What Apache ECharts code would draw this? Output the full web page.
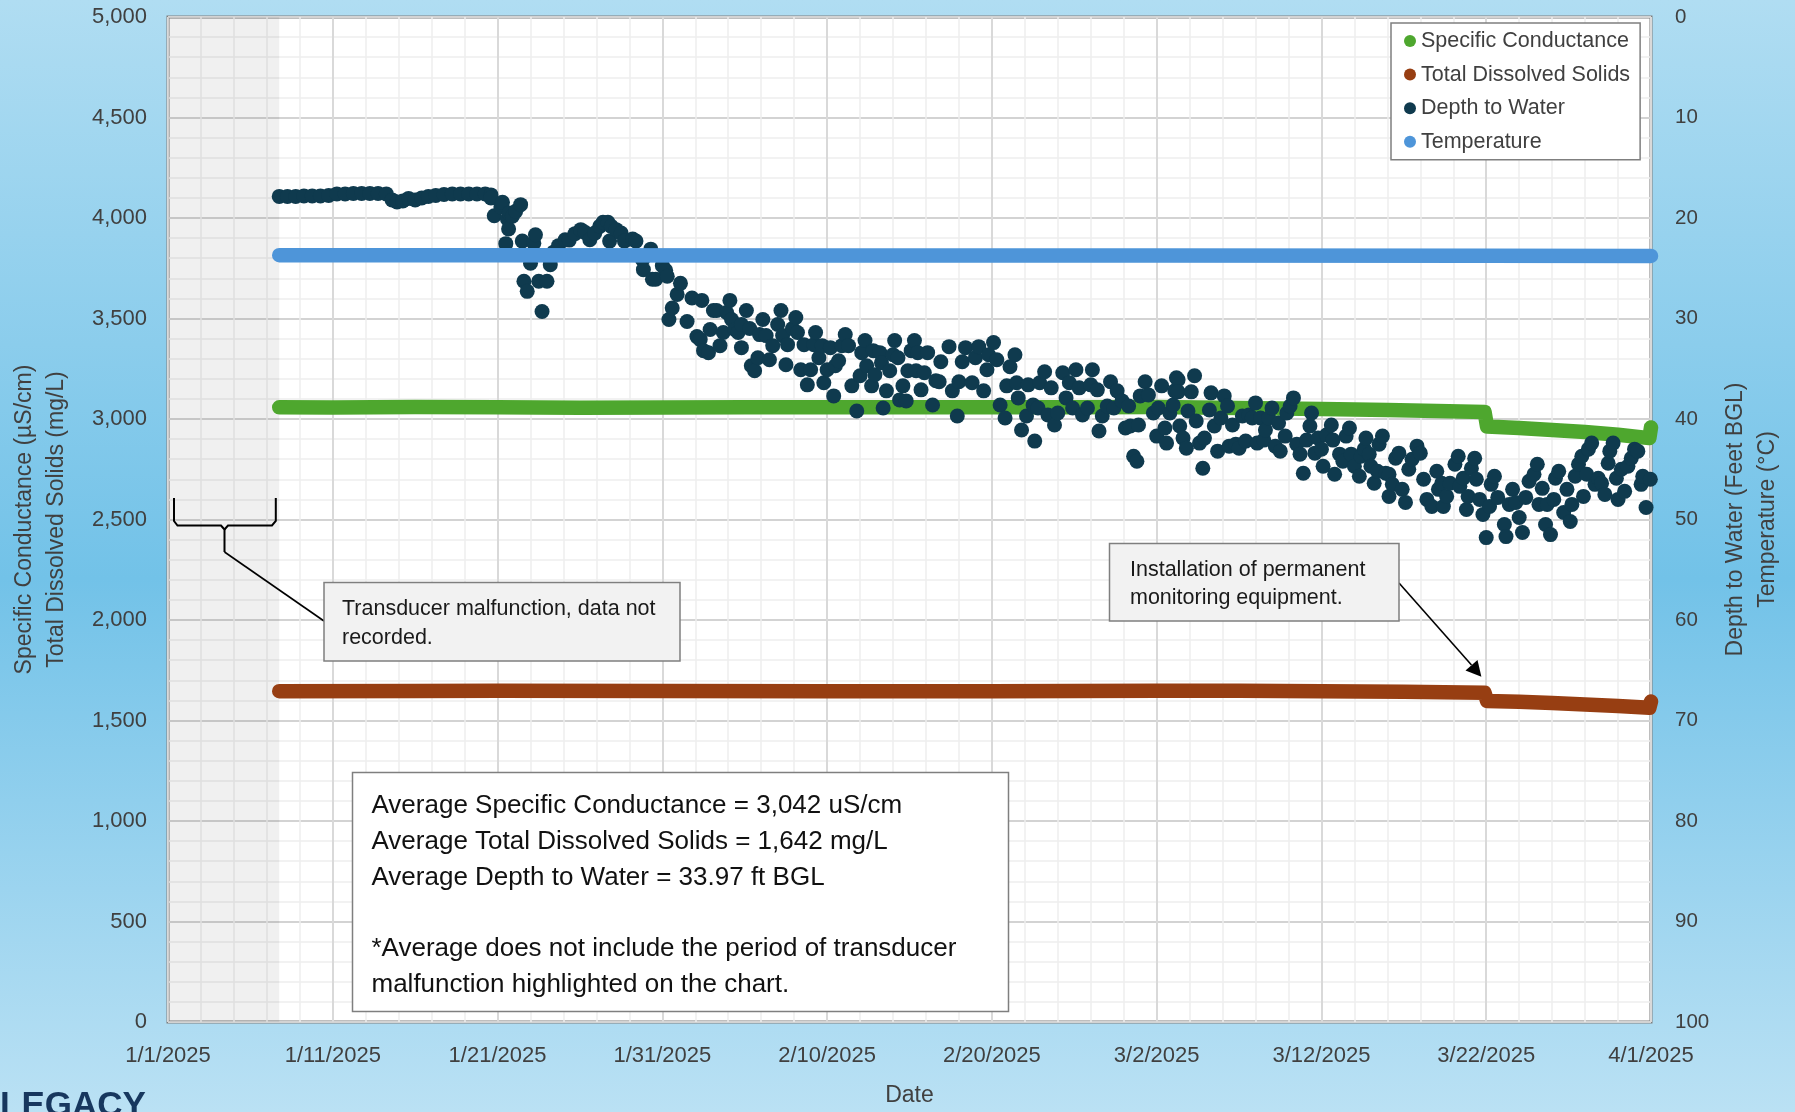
<!DOCTYPE html>
<html>
<head>
<meta charset="utf-8">
<title>Specific Conductance, TDS, Depth to Water and Temperature</title>
<script src="https://cdn.jsdelivr.net/npm/echarts/dist/echarts.min.js"></script>
<style>
    html, body { margin: 0; padding: 0; }
    #chart {
        width: 1795px;
        height: 1112px;
        background: linear-gradient(to bottom, #B0DDF2 0%, #72C2E8 52%, #BAE1F4 100%);
    }
</style>
</head>
<body>
<div id="chart"></div>
<script>
// x values are days after 1/1/2025
var scData = [[6.75,3058],[10,3057],[15,3060],[20,3058],[25,3056],[30,3057],[35,3058],[40,3058],[45,3059],
    [50,3058],[55,3058],[60,3060],[65,3055],[70,3050],[74,3045],[77,3040],[79.9,3035],
    [80.05,2963],[82,2955],[84,2945],[86,2935],[88,2922],[89.9,2905],[90,2958]];

var tdsData = [[6.75,1646],[15,1647],[20,1648],[30,1647],[40,1646],[50,1646],[60,1648],[65,1648],
    [70,1646],[75,1643],[79.9,1638],[80.05,1597],[82,1593],[84,1587],[86,1580],[88,1572],[89.9,1563],[90,1595]];

var tempData = [[6.75,23.7],[20,23.7],[40,23.72],[60,23.72],[80,23.75],[90,23.78]];

var depthData = [
    [6.75,17.85],[7.25,17.85],[7.75,17.85],[8.25,17.8],[8.75,17.8],[9.25,17.8],[9.75,17.75],[10.25,17.6],
    [10.75,17.6],[11.25,17.55],[11.75,17.55],[12.25,17.55],[12.75,17.55],[13.25,17.6],[13.6,18.2],[13.9,18.4],
    [14.25,18.3],[14.6,18.05],[15,18.2],[15.4,18.0],[15.8,17.85],[16.25,17.75],[16.75,17.65],[17.25,17.6],
    [17.75,17.6],[18.25,17.6],[18.75,17.6],[19.25,17.6],[19.6,17.7],
    [19.6,18.0],[19.8,19.77],[20.2,18.9],[20.3,18.44],[20.5,22.55],[20.6,20.1],[20.67,21.1],[20.7,19.5],
    [20.9,19.83],[21.1,19.34],[21.4,18.67],[21.5,22.3],[21.6,26.3],[21.8,27.3],[22.0,24.5],[22.2,22.5],
    [22.3,21.66],[22.5,26.3],[22.7,29.3],[23.0,26.3],[23.2,24.64],[23.4,23.4],[23.7,22.75],[24.1,22.16],
    [24.35,22.2],[24.7,21.56],[25.05,21.16],[25.3,21.43],[25.6,22.16],[25.9,21.5],[26.2,20.83],[26.4,20.43],
    [26.7,20.43],[26.8,22.3],[26.9,20.83],[27.2,21.16],[27.5,21.5],[27.7,22.3],[28.2,22.1],[28.4,22.3],
    [28.8,24.15],[28.85,25.14],[29.3,23.1],[29.4,26.1],[29.6,26.1],[30.0,24.74],[30.2,25.2],[30.3,25.8],
    [30.4,30.1],[30.6,28.96],[30.9,27.6],[31.1,26.5],[31.5,30.3],[31.8,27.96],[32.1,31.8],
    [32.4,28.2],[32.3,32.1],[32.5,33.2],[32.8,33.4],[32.9,31.1],[33.1,29.2],[33.3,29.2],[33.5,32.7],
    [33.7,31.4],[33.9,29.4],[34.1,28.2],[34.2,30.1],[34.4,31.1],[34.6,31.4],[34.8,32.9],[34.8,30.6],
    [35.1,29.2],[35.3,31.0],[35.4,34.7],[35.6,35.2],[35.8,33.9],[35.9,31.6],[36.1,30.1],[36.3,31.7],
    [36.5,34.1],[36.7,32.7],[37.0,30.6],[37.2,29.2],[37.3,31.7],[37.5,34.6],[37.6,32.6],[37.9,31.0],
    [38.1,29.9],[38.2,31.4],[38.4,35.1],[38.6,32.6],[38.8,36.6],[39.0,35.1],[39.2,32.6],[39.3,31.4],
    [39.5,33.9],[39.7,32.7],[39.8,36.4],[40.0,35.1],[40.2,32.9],[40.4,37.7],[40.5,34.7],[40.7,34.2],
    [40.9,32.7],[41.1,31.6],[41.3,32.7],[41.5,36.7],[41.8,39.2],[42.0,35.7],[42.1,33.4],[42.3,32.2],
    [42.4,34.7],[42.7,36.7],[42.8,33.2],[42.9,35.6],[43.2,33.4],[43.3,34.4],[43.4,38.9],[43.6,37.2],
    [43.8,35.2],[44.0,33.6],[44.1,32.2],[44.3,33.9],[44.4,38.1],[44.6,36.7],[44.8,38.2],[44.9,35.2],
    [45.1,33.2],[45.3,32.2],[45.4,35.2],[45.5,33.4],[45.7,37.1],[45.9,35.4],[46.1,33.4],[46.4,38.6],[46.6,36.2],
    [46.8,36.3],[46.9,34.3],[47.4,32.8],[47.6,37.2],[47.9,39.7],[48.0,36.3],[48.2,34.3],[48.4,32.9],
    [48.8,36.4],[49.0,33.9],[49.2,32.8],[49.5,37.2],[49.7,35.1],[49.8,33.6],[50.1,32.4],[50.3,34.1],
    [50.5,38.6],[50.8,39.9],[50.9,36.7],[51.1,34.8],[51.4,33.6],[51.5,36.4],[51.6,37.9],[51.8,41.1],
    [52.1,39.7],[52.2,36.6],[52.5,38.6],[52.6,42.2],[52.8,38.9],[52.9,36.4],[53.2,35.3],[53.4,39.6],
    [53.6,36.9],[53.8,40.6],[54.0,39.4],[54.3,35.4],[54.5,37.9],[54.7,36.4],[54.9,38.9],[55.1,35.1],
    [55.3,36.9],[55.5,39.6],[55.8,38.9],[56.0,36.6],[56.1,35.1],[56.4,37.1],[56.5,41.2],[56.7,39.7],
    [57.0,38.7],[57.2,36.3],[57.4,38.9],[57.6,37.2],[57.9,38.2],[58.1,40.9],[58.3,38.7],[58.4,40.7],
    [58.6,43.7],[58.8,44.2],[58.9,40.6],[59.0,37.7],[59.3,36.3],[59.5,37.6],[59.8,39.4],[60.0,41.7],
    [60.1,38.9],[60.3,36.7],[60.5,40.9],[60.6,42.4],[60.8,39.4],[61.0,38.6],[61.1,37.2],[61.2,35.9],
    [61.3,36.1],[61.3,37.3],[61.4,40.7],[61.6,41.9],[61.8,42.9],[61.9,39.2],[62.1,37.3],[62.3,35.7],
    [62.4,40.2],[62.6,42.4],[62.8,44.9],[62.9,41.9],[63.2,39.1],[63.3,37.4],[63.5,40.7],[63.7,43.2],
    [63.9,39.9],[64.1,37.7],[64.3,38.7],[64.4,42.7],[64.6,40.6],[64.8,42.5],[65.0,42.9],[65.2,39.7],
    [65.4,42.2],[65.6,39.6],[65.8,39.9],[66.0,38.4],[66.1,42.4],[66.3,39.9],[66.5,42.1],[66.6,41.1],
    [66.8,39.9],[67.0,38.9],[67.2,42.7],[67.4,40.4],[67.5,43.2],[67.8,41.7],[67.9,39.4],[68.1,38.7],
    [68.3,37.9],[68.5,42.5],[68.7,43.5],[68.9,45.4],[69.1,42.1],[69.3,40.7],[69.4,39.4],[69.6,43.4],
    [69.8,41.9],[70.0,43.0],[70.1,44.7],[70.3,41.6],[70.6,40.6],[70.7,42.1],[70.8,45.5],[71.1,43.5],
    [71.3,44.2],[71.5,41.7],[71.7,40.9],[71.8,43.5],[72.0,44.7],[72.3,45.7],[72.4,43.7],[72.6,43.0],
    [72.7,41.9],[72.9,43.5],[73.0,44.7],[73.2,46.4],[73.4,45.2],[73.5,42.5],[73.7,41.7],[73.9,45.4],
    [74.1,47.7],[74.1,45.5],[74.3,46.5],[74.5,43.9],[74.7,43.4],[74.9,47.0],[75.1,48.3],[75.3,45.0],
    [75.5,44.0],[75.8,42.7],
    [76.0,43.4],[76.2,46.0],[76.4,48.0],[76.7,48.7],[77.0,45.2],[77.1,47.0],[77.3,46.4],[77.4,48.7],
    [77.6,47.7],[77.8,46.4],[78.1,44.5],[78.3,43.7],[78.4,46.7],[78.6,45.9],[78.8,49.0],[78.9,47.7],
    [79.1,44.9],[79.3,43.9],[79.4,46.0],[79.6,48.0],[79.8,49.5],[80.0,51.8],[80.2,48.7],[80.3,46.5],
    [80.5,45.7],[80.7,47.8],[81.1,50.5],[81.2,51.7],[81.4,48.5],[81.6,47.0],[81.8,48.3],[82.0,49.8],
    [82.2,51.3],[82.4,47.8],[82.6,46.2],[82.9,45.5],[83.1,44.5],[83.2,48.5],[83.4,46.9],[83.6,50.5],
    [83.7,48.5],[83.9,51.5],[84.1,48.0],[84.2,45.9],[84.4,45.2],[84.7,49.3],[84.9,47.0],[85.1,50.2],
    [85.2,48.5],[85.4,45.7],[85.6,44.5],[85.8,43.7],[85.9,47.7],[86.1,45.5],[86.2,43.0],[86.4,42.4],
    [86.6,46.5],[86.8,45.9],[87.0,46.4],[87.2,47.5],[87.4,44.4],[87.5,43.2],[87.7,42.4],[87.9,45.9],
    [88.0,48.0],[88.2,45.0],[88.4,47.2],[88.6,44.7],[88.8,43.9],[89.0,43.0],[89.2,43.2],[89.4,46.5],
    [89.5,45.7],[89.7,48.8],[89.96,46.0]
];

// period with no data (transducer malfunction)
var gapStart = 0;
var gapEnd = 6.75;

var seriesNames = ['Specific Conductance', 'Total Dissolved Solids', 'Depth to Water', 'Temperature'];
var seriesColors = ['#4EA72E', '#973E12', '#0F3A4E', '#4E95D9'];

var FONT = '"Liberation Sans", Arial, sans-serif';
var labelColor = '#404040';

function dayLabel(v) {
    var d = new Date(2025, 0, 1 + v);
    return (d.getMonth() + 1) + '/' + d.getDate() + '/' + d.getFullYear();
}

var chart = echarts.init(document.getElementById('chart'));

function bandSeries(i, data, yIndex) {
    return {
        name: seriesNames[i],
        type: 'line',
        yAxisIndex: yIndex,
        data: data,
        showSymbol: false,
        clip: false,
        itemStyle: {color: seriesColors[i]},
        lineStyle: {color: seriesColors[i], width: 14.5, cap: 'round', join: 'round'},
        z: 2 + i
    };
}

var sc = bandSeries(0, scData, 0);
sc.markArea = {
    silent: true,
    itemStyle: {color: 'rgba(0,0,0,0.06)'},
    data: [[{xAxis: gapStart}, {xAxis: gapEnd}]]
};

var option = {
    animation: false,
    textStyle: {fontFamily: FONT},
    grid: {
        left: 168, top: 17, width: 1483, height: 1005,
        show: true, backgroundColor: '#ffffff',
        borderColor: '#7F7F7F', borderWidth: 3,
        outerBoundsMode: 'none'
    },
    legend: {
        data: seriesNames,
        orient: 'vertical',
        left: 1391, top: 23,
        icon: 'circle',
        itemWidth: 12, itemHeight: 12,
        itemGap: 11.6,
        padding: [7, 10, 7, 13],
        backgroundColor: '#ffffff',
        borderColor: '#7F7F7F', borderWidth: 1.5, borderRadius: 0,
        selectedMode: false,
        textStyle: {fontSize: 21.5, lineHeight: 22, color: labelColor, fontFamily: FONT}
    },
    xAxis: {
        type: 'value',
        min: 0, max: 90, interval: 10,
        name: 'Date', nameLocation: 'middle', nameGap: 62.5, nameMoveOverlap: false,
        nameTextStyle: {fontSize: 23, color: labelColor, fontFamily: FONT},
        axisLine: {show: false},
        axisTick: {show: false},
        axisLabel: {formatter: dayLabel, fontSize: 22, color: labelColor, margin: 23,
            showMinLabel: true, showMaxLabel: true, fontFamily: FONT},
        splitLine: {show: true, lineStyle: {color: '#D9D9D9', width: 2}},
        minorTick: {show: false, splitNumber: 5},
        minorSplitLine: {show: true, lineStyle: {color: '#EEEEEE', width: 1.5}}
    },
    yAxis: [{
        type: 'value',
        position: 'left',
        min: 0, max: 5000, interval: 500,
        name: 'Specific Conductance (\u00B5S/cm)\nTotal Dissolved Solids (mg/L)',
        nameLocation: 'middle', nameRotate: 90, nameGap: 95, nameMoveOverlap: false,
        nameTextStyle: {fontSize: 23, lineHeight: 32, color: labelColor, fontFamily: FONT},
        axisLine: {show: false},
        axisTick: {show: false},
        axisLabel: {
            formatter: function (v) { return v.toLocaleString('en-US'); },
            fontSize: 22, color: labelColor, margin: 21, fontFamily: FONT
        },
        splitLine: {show: true, lineStyle: {color: '#D3D3D3', width: 2}},
        minorTick: {show: false, splitNumber: 5},
        minorSplitLine: {show: true, lineStyle: {color: '#EEEEEE', width: 1.5}}
    }, {
        type: 'value',
        position: 'right',
        inverse: true,
        min: 0, max: 100, interval: 10,
        name: 'Depth to Water (Feet BGL)\nTemperature (\u00B0C)',
        nameLocation: 'middle', nameRotate: 90, nameGap: 69, nameMoveOverlap: false,
        nameTextStyle: {fontSize: 23, lineHeight: 32, color: labelColor, fontFamily: FONT},
        axisLine: {show: false},
        axisTick: {show: false},
        axisLabel: {fontSize: 20.5, color: labelColor, margin: 24, fontFamily: FONT},
        splitLine: {show: false}
    }],
    series: [
        sc,
        bandSeries(1, tdsData, 0),
        {
            name: seriesNames[2],
            type: 'scatter',
            yAxisIndex: 1,
            data: depthData,
            symbol: 'circle',
            symbolSize: 15,
            clip: false,
            itemStyle: {color: seriesColors[2], opacity: 1},
            z: 4
        },
        bandSeries(3, tempData, 1)
    ],
    graphic: [
        // brace over the gap and its leader line
        {type: 'polyline', z: 100, shape: {points: [[174, 498], [174, 521], [177.5, 525.5], [221, 525.5], [224.5, 529.5], [224.5, 552]]},
            style: {stroke: '#000', lineWidth: 2, fill: null}},
        {type: 'polyline', z: 100, shape: {points: [[224.5, 529.5], [228, 525.5], [272, 525.5], [275.8, 521], [275.8, 498]]},
            style: {stroke: '#000', lineWidth: 2, fill: null}},
        {type: 'line', z: 100, shape: {x1: 224.5, y1: 552, x2: 324, y2: 621},
            style: {stroke: '#000', lineWidth: 1.6}},
        {type: 'rect', z: 100, shape: {x: 324, y: 582.5, width: 356, height: 78.5},
            style: {fill: '#F2F2F2', stroke: '#7F7F7F', lineWidth: 1.5}},
        {type: 'text', z: 101, x: 342, y: 624,
            style: {text: 'Transducer malfunction, data not\nrecorded.', font: '21.5px ' + FONT,
                fill: '#1A1A1A', textAlign: 'left', textVerticalAlign: 'middle', lineHeight: 29}},

        // installation note with arrow
        {type: 'line', z: 100, shape: {x1: 1399, y1: 583, x2: 1471.5, y2: 665}, 
            style: {stroke: '#000', lineWidth: 1.6}},
        {type: 'polygon', z: 100, shape: {points: [[1481.4, 676.7], [1465.5, 670.5], [1477.5, 660]]},
            style: {fill: '#000'}},
        {type: 'rect', z: 100, shape: {x: 1109.5, y: 543.5, width: 289.5, height: 77.5},
            style: {fill: '#F2F2F2', stroke: '#7F7F7F', lineWidth: 1.5}},
        {type: 'text', z: 101, x: 1130, y: 584,
            style: {text: 'Installation of permanent\nmonitoring equipment.', font: '21.5px ' + FONT,
                fill: '#1A1A1A', textAlign: 'left', textVerticalAlign: 'middle', lineHeight: 28.4}},

        // averages box
        {type: 'rect', z: 100, shape: {x: 352.5, y: 772.5, width: 656, height: 239},
            style: {fill: '#FFFFFF', stroke: '#7F7F7F', lineWidth: 1.5}},
        {type: 'text', z: 101, x: 371.5, y: 895.5,
            style: {text: 'Average Specific Conductance = 3,042 uS/cm\nAverage Total Dissolved Solids = 1,642 mg/L\nAverage Depth to Water = 33.97 ft BGL\n\n*Average does not include the period of transducer\nmalfunction highlighted on the chart.',
                font: '26px ' + FONT, fill: '#111111', textAlign: 'left', textVerticalAlign: 'middle', lineHeight: 35.8}},

        // logo
        {type: 'text', z: 101, x: 0, y: 1106,
            style: {text: 'LEGACY', font: 'bold 35px "Liberation Sans", Arial, sans-serif',
                fill: '#17375E', textAlign: 'left', textVerticalAlign: 'middle'}}
    ]
};

chart.setOption(option);
</script>
</body>
</html>
